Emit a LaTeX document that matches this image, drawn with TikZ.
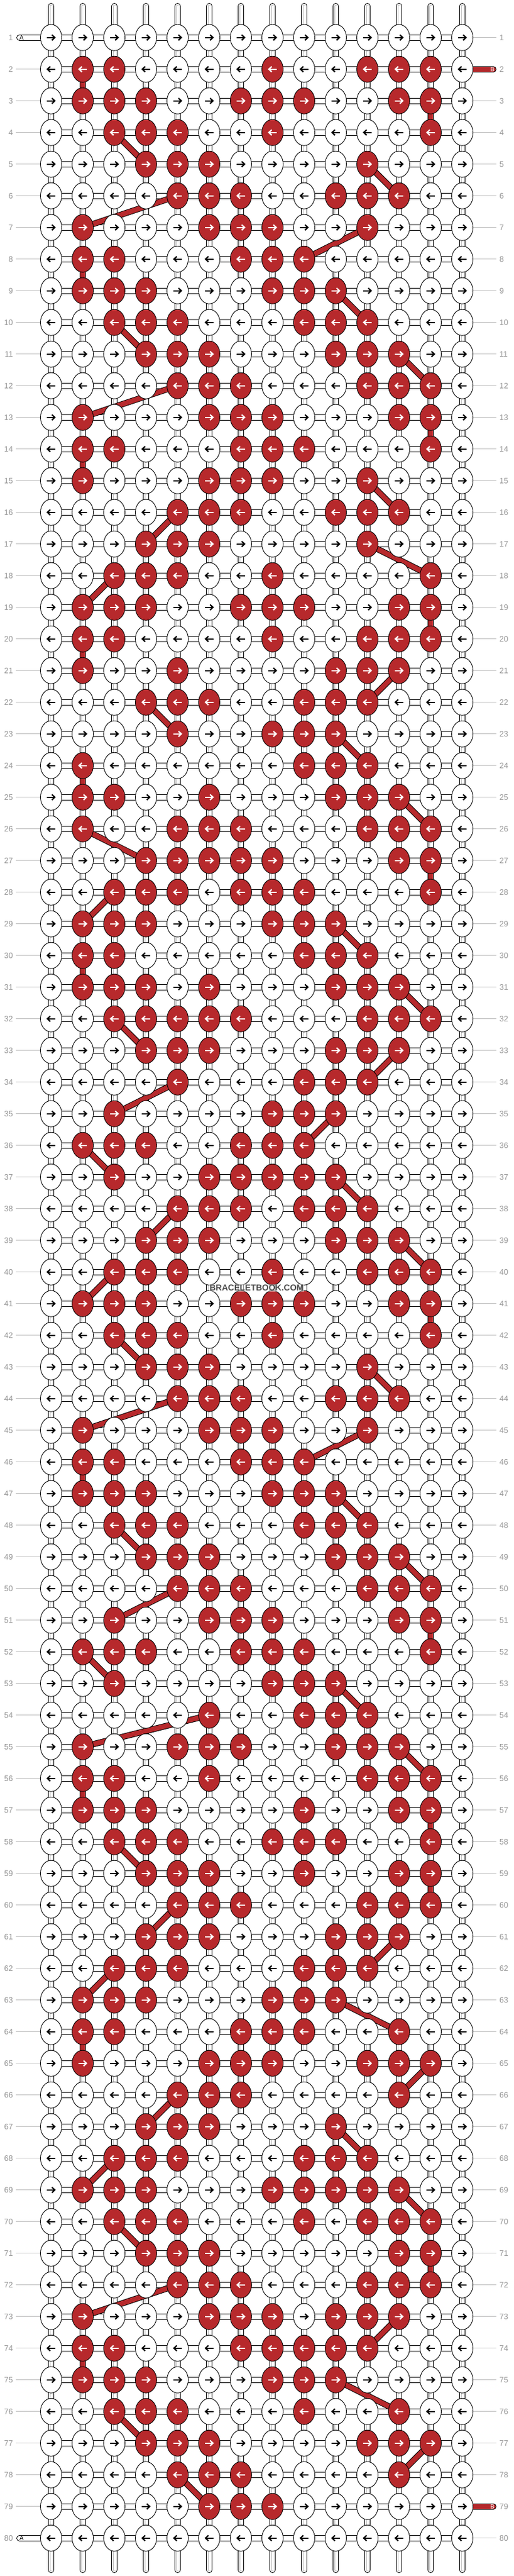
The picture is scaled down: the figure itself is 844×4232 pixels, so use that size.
\documentclass[tikz,border=0pt]{standalone}
\usepackage{fontspec}
\setmainfont{Liberation Sans}
\usetikzlibrary{shapes.geometric, backgrounds}

\definecolor{knotred}{RGB}{183,41,44}
\definecolor{lblgrey}{RGB}{150,150,150}
\definecolor{linegrey}{RGB}{190,190,190}

% red knots of each row
\makeatletter
\newcommand\redrow[2]{\@namedef{rr@#1}{#2}}
\newcommand\setknot[2]{%
  \edef\knotlist{,\@nameuse{rr@#1},}%
  \edef\knottest{\noexpand\in@{,#2,}{\knotlist}}\knottest
  \ifin@\def\kfill{knotred}\def\kink{white}\else\def\kfill{white}\def\kink{black}\fi}
\makeatother

\redrow{1}{}\redrow{2}{2,3,8,11,12,13}\redrow{3}{2,3,4,7,8,9,12,13}\redrow{4}{3,4,5,8,13}
\redrow{5}{4,5,6,11}\redrow{6}{5,6,7,10,11,12}\redrow{7}{2,6,7,8,11}\redrow{8}{2,3,7,8,9}
\redrow{9}{2,3,4,8,9,10}\redrow{10}{3,4,5,9,10,11}\redrow{11}{4,5,6,10,11,12}\redrow{12}{5,6,7,11,12,13}
\redrow{13}{2,6,7,8,12,13}\redrow{14}{2,3,7,8,9,13}\redrow{15}{2,6,7,8,11}\redrow{16}{5,6,7,10,11,12}
\redrow{17}{4,5,6,11}\redrow{18}{3,4,5,8,13}\redrow{19}{2,3,4,7,8,9,12,13}\redrow{20}{2,3,8,11,12,13}
\redrow{21}{2,5,10,11,12}\redrow{22}{4,5,6,9,10,11}\redrow{23}{5,8,9,10}\redrow{24}{2,9,10,11}
\redrow{25}{2,3,6,10,11,12}\redrow{26}{2,5,6,7,11,12,13}\redrow{27}{4,5,6,7,8,12,13}\redrow{28}{3,4,5,7,8,9,13}
\redrow{29}{2,3,4,8,9,10}\redrow{30}{2,3,9,10,11}\redrow{31}{2,3,4,6,10,11,12}\redrow{32}{3,4,5,6,7,11,12,13}
\redrow{33}{4,5,6,10,11,12}\redrow{34}{5,9,10,11}\redrow{35}{3,8,9,10}\redrow{36}{2,3,4,7,8,9}
\redrow{37}{3,6,7,8,9,10}\redrow{38}{5,6,7,9,10,11}\redrow{39}{4,5,6,10,11,12}\redrow{40}{3,4,5,8,11,12,13}
\redrow{41}{2,3,4,7,8,9,12,13}\redrow{42}{3,4,5,8,13}\redrow{43}{4,5,6,11}\redrow{44}{5,6,7,10,11,12}
\redrow{45}{2,6,7,8,11}\redrow{46}{2,3,7,8,9}\redrow{47}{2,3,4,8,9,10}\redrow{48}{3,4,5,9,10,11}
\redrow{49}{4,5,6,10,11,12}\redrow{50}{5,6,7,11,12,13}\redrow{51}{3,6,7,8,12,13}\redrow{52}{2,3,4,7,8,9,13}
\redrow{53}{3,8,9,10}\redrow{54}{6,9,10,11}\redrow{55}{2,5,6,7,10,11,12}\redrow{56}{2,3,6,11,12,13}
\redrow{57}{2,3,4,9,12,13}\redrow{58}{3,4,5,8,9,10,13}\redrow{59}{4,5,6,9,12,13}\redrow{60}{5,6,7,11,12,13}
\redrow{61}{4,5,6,10,11,12}\redrow{62}{3,4,5,9,10,11}\redrow{63}{2,3,4,8,9,10}\redrow{64}{2,3,7,8,9,12}
\redrow{65}{2,6,7,8,11,12,13}\redrow{66}{5,6,7,12}\redrow{67}{4,5,6,10}\redrow{68}{3,4,5,9,10,11}
\redrow{69}{2,3,4,8,9,10,11,12}\redrow{70}{3,4,5,9,11,12,13}\redrow{71}{4,5,6,12,13}\redrow{72}{5,6,7,11,12,13}
\redrow{73}{2,6,7,8,10,11,12}\redrow{74}{2,3,7,8,9,10,11}\redrow{75}{2,3,4,8,9,10}\redrow{76}{3,4,5,9,12}
\redrow{77}{4,5,6,11,12,13}\redrow{78}{5,6,7,12}\redrow{79}{6,7,8}\redrow{80}{}

\begin{document}
\begin{tikzpicture}[x=1pt, y=-1pt,
  knot/.style={ellipse, draw=black, line width=0.9pt, minimum width=35pt, minimum height=43pt, inner sep=0pt},
  hbar/.style={line width=1pt, draw=black, double=white, double distance=8pt},
  vinner/.style={line width=0.5pt, draw=linegrey, double=white, double distance=3pt},
  redbar/.style={line width=1pt, draw=black, double=knotred, double distance=8pt},
  lbl/.style={text=lblgrey, font=\fontsize{13}{13}\selectfont, inner sep=0pt},
  lblline/.style={draw=linegrey, line width=1pt},
  endlbl/.style={font=\fontsize{10}{10}\selectfont, inner sep=0pt},
  pics/knotarrow/.style={code={
    \draw[line width=2.2pt] (-6.6,0) -- (5.6,0);
    \draw[line width=2.2pt, miter limit=10] (1.3,-4.5) -- (6,0) -- (1.3,4.5);}}
]
\useasboundingbox (0,0) rectangle (844,4232);

% Knots
\foreach \r in {1,...,80}{
  \foreach \c in {1,...,14}{
    \setknot{\r}{\c}
    \node[knot, fill=\kfill] (k-\r-\c) at ({84+52*(\c-1)}, {61.7+52*(\r-1)}) {};
    \ifodd\r \def\kdir{1}\else \def\kdir{-1}\fi
    \pic[color=\kink, xscale=\kdir] at (k-\r-\c) {knotarrow};
  }
}

% Row numbers
\foreach \r in {1,...,80}{
  \node[lbl, anchor=east] (ll-\r) at (21.5, {61.7+52*(\r-1)}) {\r};
  \node[lbl, anchor=west] (rl-\r) at (821, {61.7+52*(\r-1)}) {\r};
}

% String ends
\foreach \c in {1,...,14}{
  \coordinate (top-\c) at ({84+52*(\c-1)}, 10);
  \coordinate (bot-\c) at ({84+52*(\c-1)}, 4222);
}
\coordinate (a-top) at (32, 61.7);
\coordinate (a-bot) at (32, 4169.7);
\coordinate (b-top) at (811, 113.7);
\coordinate (b-bot) at (811, 4117.7);

\begin{scope}[on background layer]
  \fill[white] (0,0) rectangle (844,4232);
  % horizontal connectors
  \foreach \r in {1,...,80}{
    \foreach \c [evaluate=\c as \n using int(\c+1)] in {1,...,13}{
      \draw[hbar] (k-\r-\c.center) -- (k-\r-\n.center);
    }
  }
  % vertical connectors
  \foreach \r [evaluate=\r as \s using int(\r+1)] in {1,...,79}{
    \foreach \c in {1,...,14}{
      \draw[hbar] (k-\r-\c.center) -- (k-\s-\c.center);
      \draw[vinner] (k-\r-\c.center) -- (k-\s-\c.center);
    }
  }
  % strings at top and bottom
  \foreach \c in {1,...,14}{
    \draw[hbar, line cap=round] (top-\c) -- (k-1-\c.center);
    \draw[vinner, line cap=round] (top-\c) -- (k-1-\c.center);
    \draw[hbar, line cap=round] (bot-\c) -- (k-80-\c.center);
    \draw[vinner, line cap=round] (bot-\c) -- (k-80-\c.center);
  }
  % lines to row numbers
  \foreach \r in {1,...,80}{
    \ifnum\r=1 \else\ifnum\r=80 \else
      \draw[lblline] ([xshift=4.5pt]ll-\r.east) -- (k-\r-1.center);
    \fi\fi
    \ifnum\r=2 \else\ifnum\r=79 \else
      \draw[lblline] (k-\r-14.center) -- ([xshift=-5pt]rl-\r.west);
    \fi\fi
  }
  % strings A and B
  \draw[hbar, line cap=round] (a-top) -- (k-1-1.center);
  \draw[hbar, line cap=round] (a-bot) -- (k-80-1.center);
  \draw[redbar, line cap=round] (b-top) -- (k-2-14.center);
  \draw[redbar, line cap=round] (b-bot) -- (k-79-14.center);
  % path of string B
  \foreach \r/\a/\b in {2/2/2, 3/13/13, 4/3/4, 5/11/12, 6/5/2, 7/11/9, 8/2/2, 9/10/11, 10/3/4,
      11/12/13, 12/5/2, 13/13/13, 14/2/2, 15/11/12, 16/5/4, 17/11/13, 18/3/2, 19/13/13, 20/2/2,
      21/12/11, 22/4/5, 23/10/11, 24/2/2, 25/12/13, 26/2/4, 27/13/13, 28/3/2, 29/10/11, 30/2/2,
      31/12/13, 32/3/4, 33/12/11, 34/5/3, 35/10/9, 36/2/3, 37/10/11, 38/5/4, 39/12/13, 40/3/2,
      41/13/13, 42/3/4, 43/11/12, 44/5/2, 45/11/9, 46/2/2, 47/10/11, 48/3/4, 49/12/13, 50/5/3,
      51/13/13, 52/2/3, 53/10/11, 54/6/2, 55/12/13, 56/2/2, 57/13/13, 58/3/4, 59/13/13, 60/5/4,
      61/12/11, 62/3/2, 63/10/12, 64/2/2, 65/13/12, 66/5/4, 67/10/11, 68/3/2, 69/12/13, 70/3/4,
      71/13/13, 72/5/2, 73/12/11, 74/2/2, 75/10/12, 76/3/4, 77/13/12, 78/5/6}{
    \pgfmathtruncatemacro{\s}{\r+1}
    \draw[redbar] (k-\r-\a.center) -- (k-\s-\b.center);
  }
\end{scope}

\node[endlbl] (a-lbl-1) at (35.5, 61.7) {A};
\node[endlbl] (a-lbl-2) at (35.5, 4169.7) {A};
\node[endlbl, text=white] (b-lbl-1) at (809.5, 113.7) {B};
\node[endlbl, text=white] (b-lbl-2) at (809.5, 4117.7) {B};

% Watermark
\node[font=\bfseries\fontsize{14}{14}\selectfont, text=black!70, fill=white, fill opacity=0.5, text opacity=1, inner sep=1pt] (wm) at (422, 2116) {BRACELETBOOK.COM};

\end{tikzpicture}
\end{document}
